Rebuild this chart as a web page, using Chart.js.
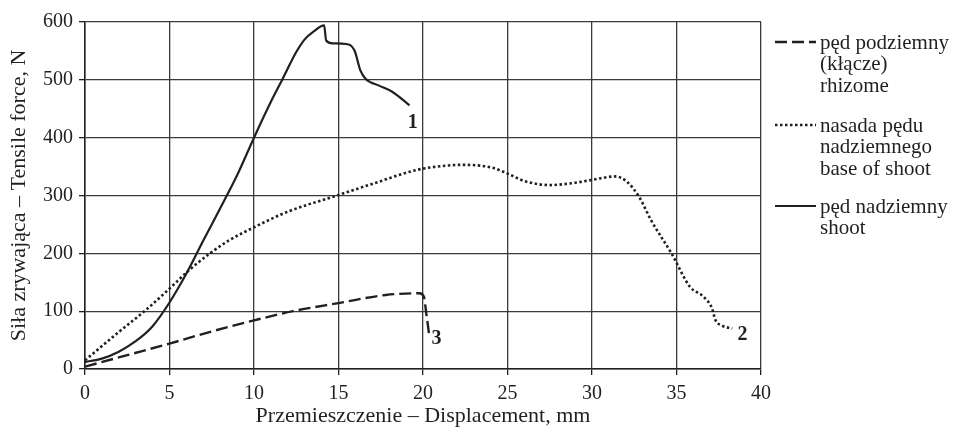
<!DOCTYPE html>
<html>
<head>
<meta charset="utf-8">
<script src="https://cdn.jsdelivr.net/npm/chart.js@4/dist/chart.umd.min.js"></script>
<style>
  html, body { margin: 0; padding: 0; background: #fff; }
  #wrap { width: 954px; height: 432px; }
</style>
</head>
<body>
<div id="wrap"><canvas id="forceChart" width="954" height="432"></canvas></div>
<script>
// pęd nadziemny (shoot) - krzywa 1
const shootX = [0, 1, 2, 3, 4, 5, 6, 7, 8, 9, 10, 11, 11.7, 12.5, 13, 13.5, 14.15, 14.27, 14.66, 15.45, 15.94, 16.3, 16.6, 17.4, 18.2, 19.2];
const shootY = [12, 18, 30, 48, 74, 115, 165, 222, 278, 335, 400, 462, 502, 548, 570, 583, 594, 568, 563, 562, 551, 516, 502, 490, 479, 456];

// nasada pędu nadziemnego (base of shoot) - krzywa 2
const baseX = [0, 2, 3.6, 5, 6.2, 7.4, 8.5, 10, 12, 14.9, 17, 19.6, 21.5, 22.5, 24.1, 25, 26, 27.5, 29, 30, 31.4, 32.1, 32.8, 33.5, 34.7, 35.8, 36.6, 37.1, 37.3, 37.7, 38.3];
const baseY = [15, 64, 102, 139, 172, 200, 222, 245, 272, 300, 320, 344, 352, 353, 348, 338, 325, 318, 322, 327, 333, 323, 297, 257, 200, 142, 125, 105, 85, 75, 70];

// pęd podziemny (kłącze, rhizome) - krzywa 3
const rhizX = [0, 2.5, 5, 7.5, 10, 12.3, 15, 17.8, 19.8, 20.05, 20.2, 20.35];
const rhizY = [4, 24, 44, 65, 84, 100, 114, 128, 131, 125, 95, 62];

const xTicks = [0, 5, 10, 15, 20, 25, 30, 35, 40];
const yTicks = [0, 100, 200, 300, 400, 500, 600];

const legendLines = [
    ['pęd podziemny', '(kłącze)', 'rhizome'],
    ['nasada pędu', 'nadziemnego', 'base of shoot'],
    ['pęd nadziemny', 'shoot']
];
const curveNumbers = ['3', '2', '1'];

const toPoints = (xs, ys) => xs.map((x, i) => ({ x: x, y: ys[i] }));

const serif = '"Liberation Serif", "DejaVu Serif", serif';
const ink = '#231f20';

// legenda i numery krzywych rysowane recznie
const sidePlugin = {
    id: 'sideLegend',
    afterDraw(chart) {
        const c = chart.ctx;
        c.save();
        c.fillStyle = ink;
        c.strokeStyle = ink;
        c.textBaseline = 'middle';
        c.font = '21px ' + serif;
        const blocks = [42, 125, 206];
        blocks.forEach((y0, bi) => {
            const ds = chart.data.datasets[bi];
            c.beginPath();
            c.setLineDash(ds.borderDash || []);
            c.lineWidth = ds.borderWidth;
            c.moveTo(775, y0);
            c.lineTo(816, y0);
            c.stroke();
            c.setLineDash([]);
            legendLines[bi].forEach((t, li) => {
                c.fillText(t, 820, y0 + 1 + li * 21.5);
            });
        });

        // numery krzywych przy koncach
        c.font = 'bold 20px ' + serif;
        c.textAlign = 'center';
        const xs = chart.scales.x, ys = chart.scales.y;
        const ends = [[rhizX, rhizY, 0.45, -10], [baseX, baseY, 0.6, -11], [shootX, shootY, 0.2, -31]];
        ends.forEach((e, i) => {
            const n = e[0].length - 1;
            const px = xs.getPixelForValue(e[0][n] + e[2]);
            const py = ys.getPixelForValue(e[1][n] + e[3]);
            c.fillText(curveNumbers[i], px, py);
        });
        c.restore();
    }
};

const ctx = document.getElementById('forceChart').getContext('2d');

new Chart(ctx, {
    type: 'line',
    data: {
        datasets: [{
            label: 'pęd podziemny (kłącze) rhizome',
            data: toPoints(rhizX, rhizY),
            borderColor: ink,
            borderWidth: 2.4,
            borderDash: [12, 5],
            cubicInterpolationMode: 'monotone',
            pointRadius: 0,
            fill: false
        }, {
            label: 'nasada pędu nadziemnego base of shoot',
            data: toPoints(baseX, baseY),
            borderColor: ink,
            borderWidth: 2.6,
            borderDash: [2.5, 2.5],
            cubicInterpolationMode: 'monotone',
            pointRadius: 0,
            fill: false
        }, {
            label: 'pęd nadziemny shoot',
            data: toPoints(shootX, shootY),
            borderColor: ink,
            borderWidth: 2.2,
            cubicInterpolationMode: 'monotone',
            pointRadius: 0,
            fill: false
        }]
    },
    options: {
        responsive: false,
        animation: false,
        layout: { padding: { top: 22, right: 193, left: 0, bottom: 0 } },
        plugins: {
            legend: { display: false },
            tooltip: { enabled: false }
        },
        scales: {
            x: {
                type: 'linear',
                min: 0,
                max: 40,
                afterBuildTicks: (s) => { s.ticks = xTicks.map(v => ({ value: v })); },
                afterFit: (s) => { s.height = 63; },
                ticks: { color: ink, font: { family: serif, size: 20 }, padding: 7 },
                grid: { color: '#3a3a3a', lineWidth: 1.3, tickLength: 6, tickColor: ink },
                border: { color: ink, width: 1.5 },
                title: {
                    display: true,
                    text: 'Przemieszczenie – Displacement, mm',
                    color: ink,
                    font: { family: serif, size: 22 },
                    padding: { top: 4, bottom: 3 }
                }
            },
            y: {
                min: 0,
                max: 600,
                afterBuildTicks: (s) => { s.ticks = yTicks.map(v => ({ value: v })); },
                afterFit: (s) => { s.width = 85; },
                ticks: { color: ink, font: { family: serif, size: 20 }, padding: 6 },
                grid: { color: '#3a3a3a', lineWidth: 1.3, tickLength: 6, tickColor: ink },
                border: { color: ink, width: 1.5 },
                title: {
                    display: true,
                    text: 'Siła zrywająca – Tensile force, N',
                    color: ink,
                    font: { family: serif, size: 22 },
                    padding: { top: 6, bottom: 4 }
                }
            }
        }
    },
    plugins: [sidePlugin]
});
</script>
</body>
</html>
